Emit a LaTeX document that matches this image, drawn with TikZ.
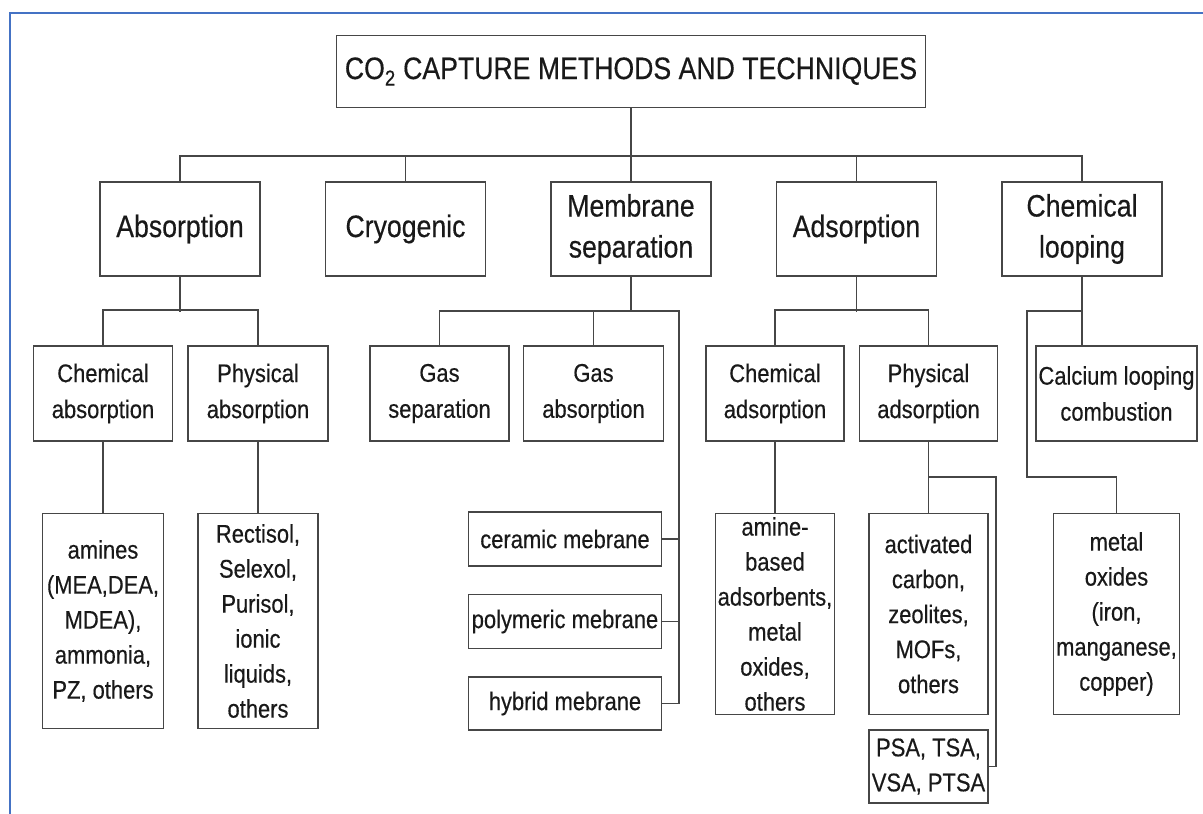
\documentclass[tikz,border=0pt]{standalone}
\usepackage{fontspec}
\setmainfont{Liberation Sans}[FakeStretch=0.86, FakeBold=0.4]
\usetikzlibrary{positioning, calc}
\definecolor{frameblue}{RGB}{68,114,196}
\definecolor{boxgray}{RGB}{70,70,70}
\definecolor{inkgray}{RGB}{25,25,25}

\begin{document}
\begin{tikzpicture}
	[
	x = 1pt, y = 1pt,
	box/.style = {rectangle, draw = boxgray, line width = 1.5pt, inner sep = 0pt, align = center, text = inkgray},
	head/.style = {box, minimum width = 160pt, minimum height = 94pt, font = \fontsize{31}{41}\selectfont},
	sub/.style = {box, minimum width = 139pt, minimum height = 95pt, font = \fontsize{25.5}{36}\selectfont},
	leaf/.style = {box, font = \fontsize{25.5}{35}\selectfont},
	link/.style = {draw = boxgray, line width = 1.5pt}
	]
	\useasboundingbox (0,0) rectangle (1203,814);
	\draw[frameblue, line width = 2.2pt] (10,0) -- (10,801) -- (1203,801);
	
	\node[head] at (180,585) (absorption) {Absorption};
	\node[head, right = 64pt of absorption] (cryogenic) {Cryogenic};
	\node[head, right = 64pt of cryogenic] (membrane) {Membrane\\separation};
	\node[head, right = 64pt of membrane] (adsorption) {Adsorption};
	\node[head, right = 64pt of adsorption] (chemloop) {Chemical\\looping};
	\node[head, minimum width = 589pt, minimum height = 72pt, above = 73pt of membrane] (title) {CO\textsubscript{2} CAPTURE METHODS AND TECHNIQUES};
	
	\node[sub] at (103,420.5) (chemabs) {Chemical\\absorption};
	\node[sub, minimum width = 140pt, right = 14pt of chemabs] (physabs) {Physical\\absorption};
	\node[sub] at (439.5,420.5) (gassep) {Gas\\separation};
	\node[sub, minimum width = 140pt, right = 13pt of gassep] (gasabs) {Gas\\absorption};
	\node[sub, minimum width = 138pt] at (775,420.5) (chemads) {Chemical\\adsorption};
	\node[sub, minimum width = 138pt, right = 14pt of chemads] (physads) {Physical\\adsorption};
	\node[sub, minimum width = 161pt] at (1116.5,420.5) (calcium) {Calcium looping\\combustion};
	
	\node[leaf, minimum width = 121pt, minimum height = 215pt, below = 71pt of chemabs] (amines) {amines\\(MEA,DEA,\\MDEA),\\ammonia,\\PZ, others};
	\node[leaf, minimum width = 120pt, minimum height = 215pt, below = 71pt of physabs] (rectisol) {Rectisol,\\Selexol,\\Purisol,\\ionic\\liquids,\\others};
	\node[leaf, minimum width = 193pt, minimum height = 54pt] at (565,275) (ceramic) {ceramic mebrane};
	\node[leaf, minimum width = 193pt, minimum height = 54pt, below = 27pt of ceramic] (polymeric) {polymeric mebrane};
	\node[leaf, minimum width = 193pt, minimum height = 53pt, below = 27pt of polymeric] (hybrid) {hybrid mebrane};
	\node[leaf, minimum width = 119pt, minimum height = 201pt, below = 71pt of chemads] (amineb) {amine-\\based\\adsorbents,\\metal\\oxides,\\others};
	\node[leaf, minimum width = 119pt, minimum height = 201pt, below = 71pt of physads] (actcarb) {activated\\carbon,\\zeolites,\\MOFs,\\others};
	\node[leaf, minimum width = 119pt, minimum height = 73pt, below = 14pt of actcarb] (psa) {PSA, TSA,\\VSA, PTSA};
	\node[leaf, minimum width = 126pt, minimum height = 201pt, below = 71pt of calcium] (metalox) {metal\\oxides\\(iron,\\manganese,\\copper)};
	
	\coordinate (mrail) at (679,503);
	\coordinate (prail) at (996,337);
	\coordinate (lrail) at (1027,503);
	
	\draw[link] (title) -- (membrane);
	\draw[link] (absorption.north) -- ++(0,25) -| (chemloop.north);
	\draw[link] (cryogenic.north) -- ++(0,25);
	\draw[link] (adsorption.north) -- ++(0,25);
	
	\draw[link] (absorption.south) -- ++(0,-35);
	\draw[link] (chemabs.north) -- ++(0,35) -| (physabs.north);
	\draw[link] (chemabs) -- (amines);
	\draw[link] (physabs) -- (rectisol);
	
	\draw[link] (membrane.south) -- (membrane.south |- mrail);
	\draw[link] (gassep.north) |- (mrail) |- (hybrid.east);
	\draw[link] (gasabs.north) -- (gasabs.north |- mrail);
	\draw[link] (ceramic.east) -- (ceramic.east -| mrail);
	\draw[link] (polymeric.east) -- (polymeric.east -| mrail);
	
	\draw[link] (adsorption.south) -- ++(0,-35);
	\draw[link] (chemads.north) -- ++(0,35) -| (physads.north);
	\draw[link] (chemads) -- (amineb);
	\draw[link] (physads) -- (actcarb);
	\draw[link] (physads.south |- prail) -- (prail) |- (psa.east);
	
	\draw[link] (chemloop.south) -- (chemloop.south |- calcium.north);
	\draw[link] (chemloop.south |- lrail) -| (lrail |- prail) -| (metalox.north);
\end{tikzpicture}
\end{document}
